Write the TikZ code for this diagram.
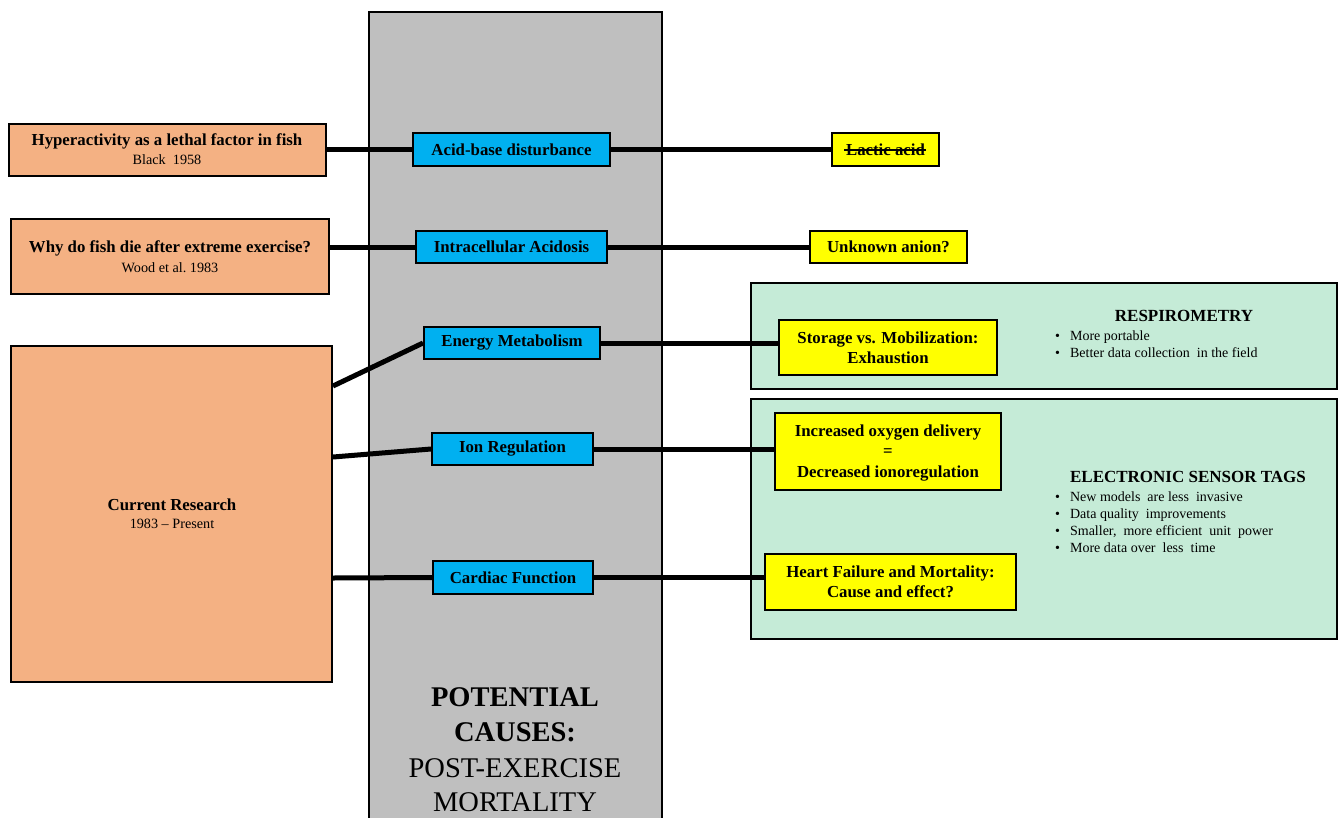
\documentclass[tikz,border=0pt]{standalone}
\usepackage{fontspec}
\setmainfont{Liberation Serif}
\definecolor{orangebox}{HTML}{F4B183}
\definecolor{bluebox}{HTML}{00B0F0}
\definecolor{yellowbox}{HTML}{FFFF00}
\definecolor{greenbox}{HTML}{C5EBD7}
\definecolor{graycol}{HTML}{BFBFBF}
\begin{document}
\begin{tikzpicture}[x=1pt,y=-1pt,
  basebox/.style={draw=black, line width=2pt, inner sep=0pt, align=center},
  orangenode/.style={basebox, fill=orangebox},
  bluenode/.style={basebox, fill=bluebox, font=\bfseries\fontsize{16.8}{19}\selectfont},
  yellownode/.style={basebox, fill=yellowbox, font=\bfseries\fontsize{16.8}{20}\selectfont},
  greennode/.style={draw=black, line width=2pt, fill=greenbox},
  conn/.style={line width=5pt, black},
  titletxt/.style={font=\bfseries\fontsize{16.8}{19}\selectfont},
  subtxt/.style={font=\fontsize{14.2}{16}\selectfont},
  headtxt/.style={font=\bfseries\fontsize{17}{20}\selectfont},
  bullettxt/.style={font=\fontsize{14}{17}\selectfont, align=left, anchor=north west, inner sep=0pt},
]
\useasboundingbox (0,0) rectangle (1339,817);
\fill[white] (0,0) rectangle (1339,817);

% central column
\draw[line width=2pt, fill=graycol] (369,12) rectangle (662,840);
\node[font=\bfseries\fontsize{28.5}{34}\selectfont] (pc1) at (515,697) {POTENTIAL};
\node[font=\bfseries\fontsize{28.5}{34}\selectfont] (pc2) at (515,732) {CAUSES:};
\node[font=\fontsize{28.5}{34}\selectfont] (pc3) at (515,768) {POST-EXERCISE};
\node[font=\fontsize{28.5}{34}\selectfont] (pc4) at (515,802) {MORTALITY};

% green panels
\draw[greennode] (751,283) rectangle (1337,389);
\draw[greennode] (751,399) rectangle (1337,639);

% orange boxes
\node[orangenode, minimum width=317pt, minimum height=52pt] (o1) at (167.5,150) {};
\node[titletxt] (o1a) at (167,141) {Hyperactivity as a lethal factor in fish};
\node[subtxt] (o1b) at (167,160) {Black\ \ 1958};
\node[orangenode, minimum width=318pt, minimum height=75pt] (o2) at (170,256.5) {};
\node[titletxt] (o2a) at (170,248) {Why do fish die after extreme exercise?};
\node[subtxt] (o2b) at (170,268) {Wood et al.\ 1983};
\node[orangenode, minimum width=321pt, minimum height=336pt] (o3) at (171.5,514) {};
\node[titletxt] (o3a) at (172,505) {Current Research};
\node[subtxt] (o3b) at (172,524) {1983 -- Present};

% blue boxes
\node[bluenode, minimum width=197pt, minimum height=33pt] (b1) at (511.5,149.5) {Acid-base disturbance};
\node[bluenode, minimum width=191pt, minimum height=32pt] (b2) at (511.5,247) {Intracellular Acidosis};
\node[bluenode, minimum width=176pt, minimum height=32pt] (b3) at (512,343) {Energy Metabolism};
\node[bluenode, minimum width=161pt, minimum height=32pt] (b4) at (512.5,449) {Ion Regulation};
\node[bluenode, minimum width=160pt, minimum height=33pt] (b5) at (513,577.5) {Cardiac Function};

% yellow boxes
\node[yellownode, minimum width=107pt, minimum height=33pt] (y1) at (885.5,149.5) {Lactic acid};
\draw[line width=1.2pt] ([xshift=13pt,yshift=-0.5pt]y1.west) -- ([xshift=-14pt,yshift=-0.5pt]y1.east);
\node[yellownode, minimum width=157pt, minimum height=32pt] (y2) at (888.5,247) {Unknown anion?};
\node[yellownode, minimum width=218pt, minimum height=55pt] (y3) at (888,347.5) {Storage vs. Mobilization:\\Exhaustion};
\node[yellownode, minimum width=226pt, minimum height=77pt] (y4) at (888,451.5) {};
\node[font=\bfseries\fontsize{16.8}{20.5}\selectfont, align=center] (y4t) at (888,453) {Increased oxygen delivery\\=\\Decreased ionoregulation};
\node[yellownode, minimum width=251pt, minimum height=56pt] (y5) at (890.5,582) {Heart Failure and Mortality:\\Cause and effect?};

% connectors
\draw[conn] (o1.east |- b1.west) -- (b1.west);
\draw[conn] (b1.east) -- (b1.east -| y1.west);
\draw[conn] (o2.east |- b2.west) -- (b2.west);
\draw[conn] (b2.east) -- (b2.east -| y2.west);
\draw[conn] ([yshift=128pt]o3.east) -- (b3.west);
\draw[conn] (b3.east) -- (b3.east -| y3.west);
\draw[conn] ([yshift=57pt]o3.east) -- (b4.west);
\draw[conn] (b4.east) -- (b4.east -| y4.west);
\draw[conn] ([yshift=-64pt]o3.east) -- (b5.west);
\draw[conn] (b5.east) -- (b5.east -| y5.west);

% green panel texts
\node[headtxt] (resp) at (1184,316) {RESPIROMETRY};
\node[bullettxt] (respb) at (1055,331) {\textbullet\hspace{10pt}More portable\\\textbullet\hspace{10pt}Better data collection\ \ in the field};
\node[headtxt] (est) at (1188,477) {ELECTRONIC SENSOR TAGS};
\node[bullettxt] (estb) at (1055,492) {\textbullet\hspace{10pt}New models\ \ are less\ \ invasive\\\textbullet\hspace{10pt}Data quality\ \ improvements\\\textbullet\hspace{10pt}Smaller,\ \ more efficient\ \ unit\ \ power\\\textbullet\hspace{10pt}More data over\ \ less\ \ time};
\end{tikzpicture}
\end{document}
